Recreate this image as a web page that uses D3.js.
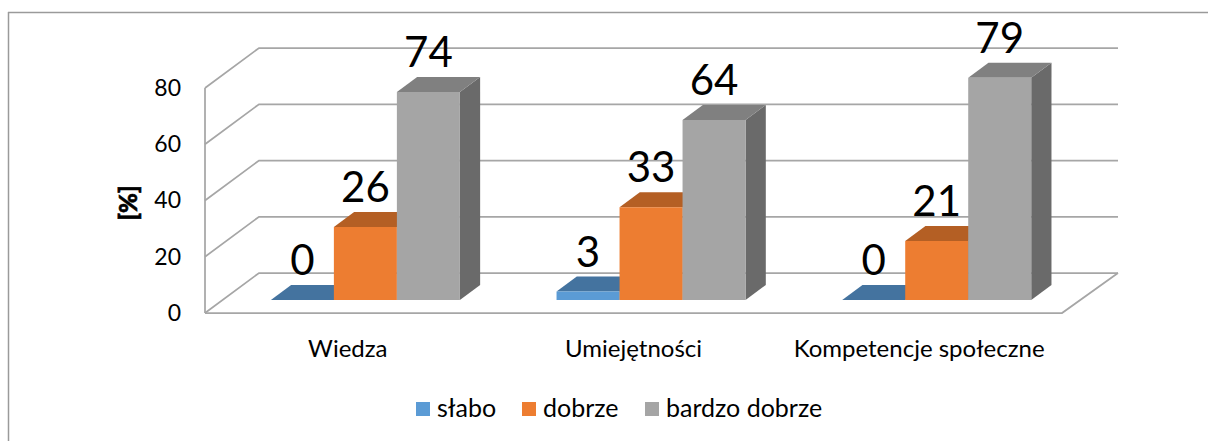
<!DOCTYPE html>
<html><head><meta charset="utf-8">
<script src="https://cdn.jsdelivr.net/npm/d3@7"></script>
<style>html,body{margin:0;padding:0;background:#fff;}svg{display:block;}</style>
</head><body>
<svg id="chart" width="1208" height="441"></svg>
<script>
const categories = ["Wiedza", "Umiejętności", "Kompetencje społeczne"];
const seriesNames = ["słabo", "dobrze", "bardzo dobrze"];
const slabo = [0, 3, 0];
const dobrze = [26, 33, 21];
const bardzoDobrze = [74, 64, 79];
const yTicks = [0, 20, 40, 60, 80];
const yLabel = "[%]";

const seriesValues = [slabo, dobrze, bardzoDobrze];
const colors = [
  {front: "#5B9BD5", top: "#44739F", side: "#3B6690"},
  {front: "#ED7D31", top: "#B45F24", side: "#A0531F"},
  {front: "#A5A5A5", top: "#808080", side: "#6A6A6A"}
];

const svg = d3.select("#chart");
const font = "Lato, 'Open Sans', sans-serif";

// outer frame
svg.append("line").attr("x1", 8.5).attr("y1", 12).attr("x2", 8.5).attr("y2", 441).attr("stroke", "#9a9a9a").attr("stroke-width", 1.5);
svg.append("line").attr("x1", 8).attr("y1", 12.5).attr("x2", 1208).attr("y2", 12.5).attr("stroke", "#9a9a9a").attr("stroke-width", 1.5);

// 3D geometry
const x0 = 205, x1 = 1062, yBase = 313;
const DX = 54, DY = -40;
const y = d3.scaleLinear().domain([0, 80]).range([yBase, yBase - 225]);
const xCat = d3.scaleBand().domain(categories).range([x0, x1]).padding(0);
const xSer = d3.scaleBand().domain(d3.range(3)).range([0, xCat.bandwidth()]).paddingInner(0).paddingOuter(0.767);
const zF = 0.325, zB = 0.70;
const P = (x, v, z) => [x + z * DX, y(v) + z * DY];

const grid = svg.append("g").attr("stroke", "#a6a6a6").attr("stroke-width", 1.75).attr("fill", "none");
// left wall
grid.append("line").attr("x1", x0).attr("x2", x0).attr("y1", y(80)).attr("y2", y(0));
yTicks.forEach(t => {
  const a = P(x0, t, 0), b = P(x0, t, 1), c = P(x1, t, 1);
  grid.append("polyline").attr("points", [a, b, [c[0] + 2, c[1]]].map(p => p.join(",")).join(" "));
});
// floor
const f1 = P(x0, 0, 0), f2 = P(x1, 0, 0), f3 = P(x1, 0, 1);
grid.append("polyline").attr("points", [f1, f2, [f3[0] + 2, f3[1]]].map(p => p.join(",")).join(" "));

// y tick labels
svg.append("g").selectAll("text").data(yTicks).join("text")
  .attr("x", 181).attr("y", d => y(d) + 2)
  .attr("text-anchor", "end").attr("dominant-baseline", "middle")
  .attr("font-family", font).attr("font-size", 23).attr("fill", "#000")
  .text(d => d);

svg.append("text").attr("transform", "translate(131,203) rotate(-90)")
  .attr("text-anchor", "middle").attr("dominant-baseline", "middle")
  .attr("font-family", font).attr("font-size", 24).attr("font-weight", 900)
  .attr("stroke", "#000").attr("stroke-width", 0.6)
  .text(yLabel);

// bars
const bars = svg.append("g");
const poly = (pts, fill) => bars.append("polygon").attr("points", pts.map(p => p.join(",")).join(" ")).attr("fill", fill);
categories.forEach((cat, ci) => {
  seriesValues.forEach((vals, si) => {
    const v = vals[ci];
    const xa = xCat(cat) + xSer(si), xb = xa + xSer.bandwidth();
    const c = colors[si];
    poly([P(xb, 0, zF), P(xb, 0, zB), P(xb, v, zB), P(xb, v, zF)], c.side);
    poly([P(xa, v, zF), P(xb, v, zF), P(xb, v, zB), P(xa, v, zB)], c.top);
    if (v > 0) poly([P(xa, 0, zF), P(xb, 0, zF), P(xb, v, zF), P(xa, v, zF)], c.front);
  });
});

// data labels
const labels = svg.append("g");
categories.forEach((cat, ci) => {
  seriesValues.forEach((vals, si) => {
    const v = vals[ci];
    const xa = xCat(cat) + xSer(si);
    const p = P(xa + xSer.bandwidth() / 2, v, zF);
    labels.append("text").attr("x", p[0]).attr("y", p[1] - 25)
      .attr("text-anchor", "middle").attr("font-family", font).attr("font-size", 42)
      .attr("fill", "#000").text(v);
  });
});

// category labels
svg.append("g").selectAll("text").data(categories).join("text")
  .attr("x", d => xCat(d) + xCat.bandwidth() / 2).attr("y", 357)
  .attr("text-anchor", "middle").attr("font-family", font).attr("font-size", 24)
  .attr("fill", "#000").text(d => d);

// legend
const legendX = [416, 522, 645];
const lg = svg.append("g");
seriesNames.forEach((n, i) => {
  lg.append("rect").attr("x", legendX[i]).attr("y", 402).attr("width", 14).attr("height", 14).attr("fill", colors[i].front);
  lg.append("text").attr("x", legendX[i] + 21).attr("y", 417)
    .attr("font-family", font).attr("font-size", 25).attr("fill", "#000").text(n);
});
</script>
</body></html>
